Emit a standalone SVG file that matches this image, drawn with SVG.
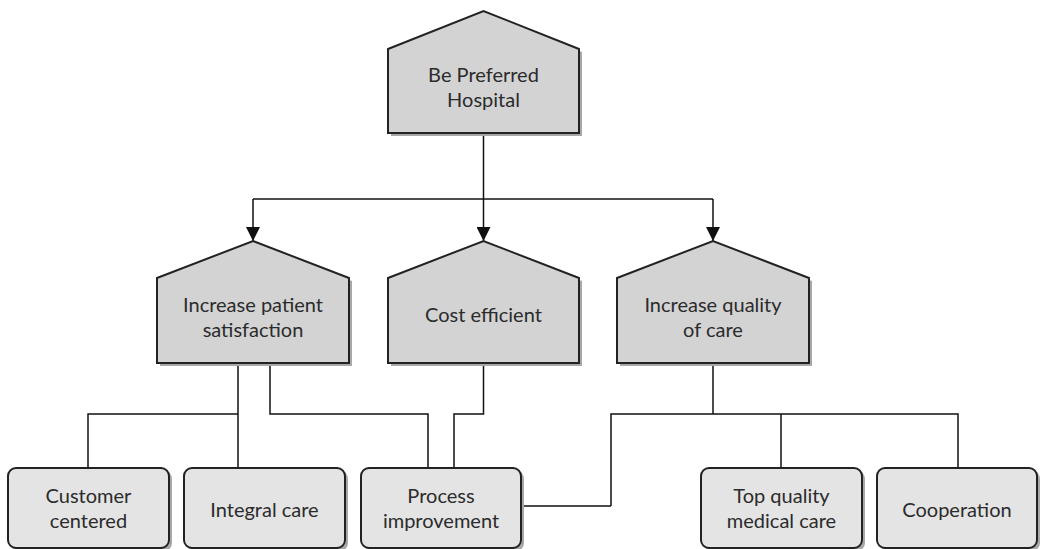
<svg xmlns="http://www.w3.org/2000/svg" width="1044" height="549" viewBox="0 0 1044 549">
<defs>
<marker id="arr" markerUnits="userSpaceOnUse" markerWidth="14" markerHeight="14" viewBox="0 0 12 12" refX="12" refY="6" orient="auto">
<path d="M0,0 L12,6 L0,12 Z" fill="#111"/>
</marker>
<style>
.sh{fill:#a8a8a8;stroke:none}
.goal{fill:#d3d3d4;stroke:#222;stroke-width:2}
.box{fill:#e4e4e5;stroke:#222;stroke-width:2}
.t{font-family:Lato,"Open Sans","Liberation Sans",sans-serif;font-size:20px;fill:#2b2b2b;text-anchor:middle}
.c{fill:none;stroke:#111;stroke-width:1.5}
</style>
</defs>
<rect width="1044" height="549" fill="#fff"/>
<g id="connectors">
<path class="c" d="M483.5,133 V241" marker-end="url(#arr)"/>
<path class="c" d="M253,199 H713"/>
<path class="c" d="M253,199 V241" marker-end="url(#arr)"/>
<path class="c" d="M713,199 V241" marker-end="url(#arr)"/>
<path class="c" d="M238,363 V468"/>
<path class="c" d="M238,414 H88 V468"/>
<path class="c" d="M270,363 V414 H428 V468"/>
<path class="c" d="M483.5,363 V414 H454 V468"/>
<path class="c" d="M713,363 V414"/>
<path class="c" d="M611,506 H521"/>
<path class="c" d="M611,506 V414 H958 V468"/>
<path class="c" d="M781,414 V468"/>
</g>
<g id="be-preferred-hospital">
<polygon class="sh" points="391,52 486.5,14 582,52 582,136 391,136"/>
<polygon class="goal" points="388,49 483.5,11 579,49 579,133 388,133"/>
<text class="t" x="483.5" y="82">Be Preferred</text>
<text class="t" x="483.5" y="107">Hospital</text>
</g>
<g id="increase-patient-satisfaction">
<polygon class="sh" points="160,281 256,244 352,281 352,366 160,366"/>
<polygon class="goal" points="157,278 253,241 349,278 349,363 157,363"/>
<text class="t" x="253" y="312">Increase patient</text>
<text class="t" x="253" y="337">satisfaction</text>
</g>
<g id="cost-efficient">
<polygon class="sh" points="391,281 486.5,244 582,281 582,366 391,366"/>
<polygon class="goal" points="388,278 483.5,241 579,278 579,363 388,363"/>
<text class="t" x="483.5" y="322">Cost efficient</text>
</g>
<g id="increase-quality-of-care">
<polygon class="sh" points="620,281 716,244 812,281 812,366 620,366"/>
<polygon class="goal" points="617,278 713,241 809,278 809,363 617,363"/>
<text class="t" x="713" y="312">Increase quality</text>
<text class="t" x="713" y="337">of care</text>
</g>
<g id="customer-centered">
<rect class="sh" x="11" y="471" width="161" height="80" rx="8"/>
<rect class="box" x="8" y="468" width="161" height="80" rx="8"/>
<text class="t" x="88.5" y="503">Customer</text>
<text class="t" x="88.5" y="528">centered</text>
</g>
<g id="integral-care">
<rect class="sh" x="187" y="471" width="161" height="80" rx="8"/>
<rect class="box" x="184" y="468" width="161" height="80" rx="8"/>
<text class="t" x="264.5" y="517">Integral care</text>
</g>
<g id="process-improvement">
<rect class="sh" x="364" y="471" width="160" height="80" rx="8"/>
<rect class="box" x="361" y="468" width="160" height="80" rx="8"/>
<text class="t" x="441" y="503">Process</text>
<text class="t" x="441" y="528">improvement</text>
</g>
<g id="top-quality-medical-care">
<rect class="sh" x="704" y="471" width="161" height="80" rx="8"/>
<rect class="box" x="701" y="468" width="161" height="80" rx="8"/>
<text class="t" x="781.5" y="503">Top quality</text>
<text class="t" x="781.5" y="528">medical care</text>
</g>
<g id="cooperation">
<rect class="sh" x="880" y="471" width="160" height="80" rx="8"/>
<rect class="box" x="877" y="468" width="160" height="80" rx="8"/>
<text class="t" x="957" y="517">Cooperation</text>
</g>
</svg>
